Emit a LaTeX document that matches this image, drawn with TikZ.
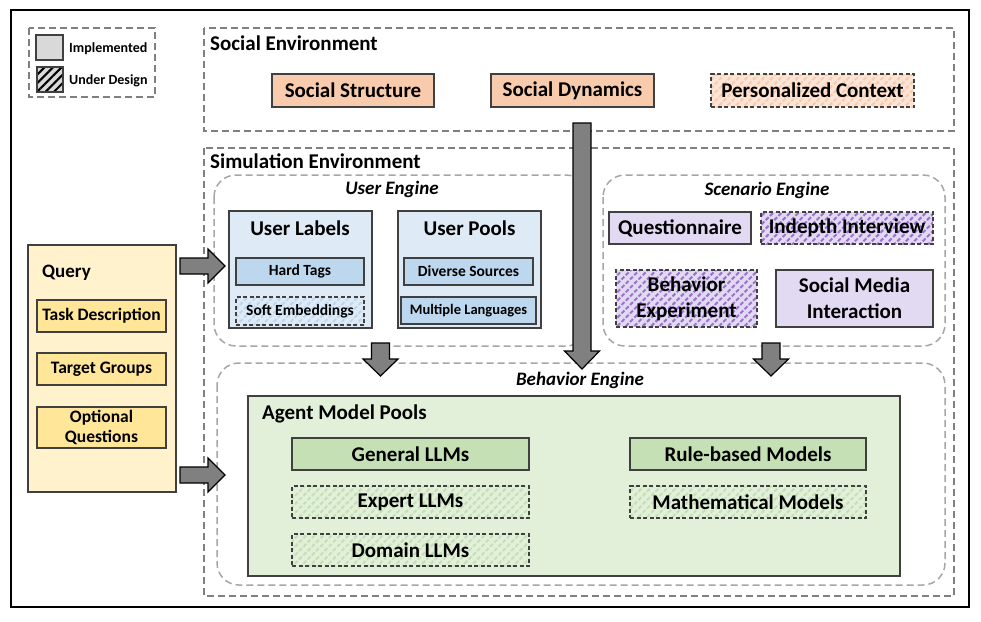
\documentclass[tikz,border=0pt]{standalone}
\usepackage{fontspec}
\setmainfont{Carlito}
\usetikzlibrary{patterns.meta}
\definecolor{bd}{HTML}{404040}
\definecolor{dgray}{HTML}{808080}
\definecolor{lgray}{HTML}{A6A6A6}
\definecolor{peach}{HTML}{F8CBAD}
\definecolor{peachl}{HTML}{FCE4D6}
\definecolor{bluel}{HTML}{DEEBF7}
\definecolor{bluem}{HTML}{BDD7EE}
\definecolor{purl}{HTML}{E2D9F3}
\definecolor{purd}{HTML}{9C73CC}
\definecolor{greenl}{HTML}{E2F0D9}
\definecolor{greenm}{HTML}{C5E0B4}
\definecolor{yell}{HTML}{FFF2CC}
\definecolor{yelm}{HTML}{FFE699}
\definecolor{legg}{HTML}{D9D9D9}
\definecolor{arrg}{HTML}{808080}
\newcommand\bx[7]{\node[#6, minimum width={(#4-#2)*1pt}, minimum height={(#5-#3)*1pt}] (#1) at ({(#2+#4)/2},{(#3+#5)/2}) {#7};}
\tikzset{
  base/.style={draw=bd, line width=1.3pt, inner sep=0pt, font=\bfseries\fontsize{21}{25}\selectfont, align=center},
  small/.style={font=\bfseries\fontsize{15.5}{18}\selectfont},
  qtext/.style={font=\bfseries\fontsize{17.5}{20}\selectfont},
  dsh/.style={dash pattern=on 4pt off 2.5pt},
  hatch/.style 2 args={preaction={fill=#1}, pattern={Lines[angle=45,distance=6pt,line width=2pt]}, pattern color=#2},
  env/.style={draw=dgray, line width=1.5pt, dash pattern=on 7pt off 4pt},
  eng/.style={draw=lgray, line width=1.5pt, dash pattern=on 7pt off 4pt, rounded corners=22pt},
  ttl/.style={anchor=west, inner sep=0pt, font=\bfseries\fontsize{21}{25}\selectfont},
  ittl/.style={inner sep=0pt, font=\bfseries\itshape\fontsize{19}{22}\selectfont},
  blockarrow/.style={draw=black, fill=arrg, line width=1.2pt, line join=miter},
}
\begin{document}
\begin{tikzpicture}[x=1pt,y=-1pt]
\useasboundingbox (0,0) rectangle (981,621);
% outer frame
\draw[line width=1.6pt] (11,10) rectangle (969,607);
% legend
\draw[env] (29,28) rectangle (155,97);
\bx{legimpl}{36}{35}{63}{60}{base, fill=legg}{}
\bx{legdes}{37}{67}{63}{92}{base, hatch={legg}{black}}{}
\node[anchor=west, inner sep=0pt, font=\bfseries\fontsize{14}{16}\selectfont] (legt1) at (69,49) {Implemented};
\node[anchor=west, inner sep=0pt, font=\bfseries\fontsize{14}{16}\selectfont] (legt2) at (69,81) {Under Design};
% social environment
\draw[env] (204,28) rectangle (954,131);
\node[ttl] (socttl) at (210,43) {Social Environment};
\bx{socstr}{272}{74}{434}{107}{base, fill=peach}{Social Structure}
\bx{socdyn}{491}{74}{654}{107}{base, fill=peach}{Social Dynamics}
\bx{perctx}{711}{74}{914}{107}{base, dsh, hatch={peachl}{peach}}{Personalized Context}
% simulation environment
\draw[env] (204,148) rectangle (954,596);
\node[ttl] (simttl) at (210,161) {Simulation Environment};
% user engine
\draw[eng] (214,175) rectangle (588,346);
\node[ittl] (uettl) at (392,189) {User Engine};
\bx{ulab}{229}{211}{372}{328}{base, fill=bluel}{}
\node[inner sep=0pt, font=\bfseries\fontsize{21}{25}\selectfont] (ulabt) at (300,228) {User Labels};
\bx{hard}{236}{258}{364}{285}{base, small, fill=bluem}{Hard Tags}
\bx{soft}{236}{297}{364}{325}{base, small, dsh, hatch={bluel}{bluem}}{Soft Embeddings}
\bx{upool}{398}{211}{541}{328}{base, fill=bluel}{}
\node[inner sep=0pt, font=\bfseries\fontsize{21}{25}\selectfont] (upoolt) at (469.5,228) {User Pools};
\bx{divs}{404}{258}{533}{285}{base, small, fill=bluem}{Diverse Sources}
\bx{mlang}{401}{297}{536}{324}{base, font=\bfseries\fontsize{14.5}{17}\selectfont, fill=bluem}{Multiple Languages}
% scenario engine
\draw[eng] (603,175) rectangle (945,346);
\node[ittl] (scttl) at (767,190) {Scenario Engine};
\bx{quest}{609}{212}{751}{244}{base, fill=purl}{Questionnaire}
\bx{indep}{761}{212}{933}{244}{base, dsh, hatch={purl}{purd}}{Indepth Interview}
\bx{bexp}{616}{270}{757}{327}{base, dsh, hatch={purl}{purd}, font=\bfseries\fontsize{21}{26}\selectfont}{Behavior\\Experiment}
\bx{smi}{776}{270}{933}{327}{base, fill=purl, font=\bfseries\fontsize{21}{26}\selectfont}{Social Media\\Interaction}
% behavior engine
\draw[eng] (217,363) rectangle (945,585);
\node[ittl] (bettl) at (580,380) {Behavior Engine};
\bx{amp}{248}{396}{900}{576}{base, fill=greenl}{}
\node[ttl] (ampt) at (262,414) {Agent Model Pools};
\bx{genl}{292}{438}{529}{470}{base, fill=greenm}{General LLMs}
\bx{expl}{292}{486}{529}{518}{base, dsh, hatch={greenl}{greenm}}{Expert LLMs}
\bx{doml}{292}{534}{529}{566}{base, dsh, hatch={greenl}{greenm}}{Domain LLMs}
\bx{rule}{630}{438}{866}{470}{base, fill=greenm}{Rule-based Models}
\bx{math}{630}{486}{866}{518}{base, dsh, hatch={greenl}{greenm}}{Mathematical Models}
% query
\bx{query}{28}{245}{176}{492}{base, fill=yell}{}
\node[anchor=west, inner sep=0pt, font=\bfseries\fontsize{19}{22}\selectfont] (queryt) at (42,273) {Query};
\bx{task}{37}{300}{166}{332}{base, qtext, fill=yelm}{Task Description}
\bx{tgrp}{37}{353}{166}{385}{base, qtext, fill=yelm}{Target Groups}
\bx{optq}{37}{407}{166}{448}{base, qtext, fill=yelm}{Optional\\Questions}
% block arrows
\newcommand\rarrow[3]{\draw[blockarrow] (#1,{#2-8}) -- ({#3-17},{#2-8}) -- ({#3-17},{#2-17}) -- (#3,#2) -- ({#3-17},{#2+17}) -- ({#3-17},{#2+8}) -- (#1,{#2+8}) -- cycle;}
\newcommand\darrow[4]{\draw[blockarrow] ({#1-9},#2) -- ({#1+9},#2) -- ({#1+9},{#3-#4}) -- ({#1+17.5},{#3-#4}) -- (#1,#3) -- ({#1-17.5},{#3-#4}) -- ({#1-9},{#3-#4}) -- cycle;}
\rarrow{180}{266}{225}
\rarrow{180}{475}{225}
\darrow{380.5}{343}{376}{17}
\darrow{771}{343}{376}{17}
\darrow{582}{123}{369}{18}
\end{tikzpicture}
\end{document}
